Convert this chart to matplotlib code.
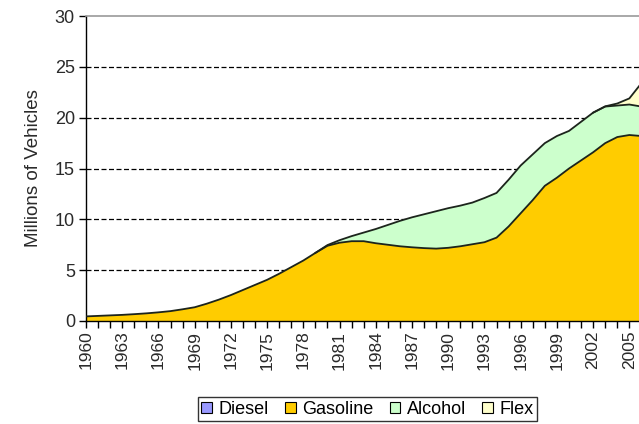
import numpy as np
import matplotlib.pyplot as plt
from matplotlib.patches import Patch

plt.rcParams['font.family'] = ['Liberation Sans', 'DejaVu Sans']

# data (millions of vehicles)
years = list(range(1960, 2008))
diesel = [0.0] * 48
gasoline = [0.45, 0.5, 0.55, 0.6, 0.67, 0.75, 0.85, 0.97, 1.15, 1.35,
            1.7, 2.1, 2.55, 3.05, 3.55, 4.05, 4.65, 5.3, 5.95, 6.7,
            7.4, 7.7, 7.85, 7.85, 7.65, 7.5, 7.35, 7.25, 7.17, 7.12,
            7.2, 7.35, 7.55, 7.75, 8.2, 9.3, 10.6, 11.9, 13.3, 14.1,
            15.0, 15.8, 16.6, 17.5, 18.1, 18.3, 18.2, 18.0]
alcohol = [0.0] * 20 + [0.07, 0.25, 0.5, 0.85, 1.4, 1.95, 2.5, 2.95, 3.33, 3.68,
                        3.9, 4.0, 4.1, 4.35, 4.4, 4.6, 4.7, 4.5, 4.2, 4.1,
                        3.7, 3.8, 3.9, 3.6, 3.1, 3.0, 2.9, 2.8]
flex = [0.0] * 43 + [0.02, 0.2, 0.6, 2.3, 3.8]

labels = ['Diesel', 'Gasoline', 'Alcohol', 'Flex']
colors = ['#9999FF', '#FFCC00', '#CCFFCC', '#FFFFCC']

fig = plt.figure(figsize=(6.39, 4.24), dpi=100)
ax = fig.add_axes([0.1346, 0.243, 0.8654, 0.719])

x = np.array(years)
series = [np.array(diesel), np.array(gasoline), np.array(alcohol), np.array(flex)]
ax.stackplot(x, *series, colors=colors, linewidth=0, zorder=2)

# outline of each layer
tops = np.cumsum(series, axis=0)
for i in range(1, 4):
    idx = np.where(series[i] > 0)[0]
    if len(idx) == 0:
        continue
    start = max(idx[0] - 1, 0)
    ax.plot(x[start:], tops[i][start:], color='#1c241c', lw=1.3, zorder=3)

for yv in [5, 10, 15, 20, 25]:
    ax.axhline(yv, color='black', lw=0.9, ls=(0, (4, 2)), zorder=1)

ax.set_yticks(range(0, 31, 5))
ax.set_xticks(years)
ax.set_xticklabels([str(y) if (y - 1960) % 3 == 0 else '' for y in years],
                   rotation=90)
# picture is cut off on the right, like the original
ax.set_xlim(1960, 2005.8)
ax.set_ylim(0, 30)
ax.tick_params(axis='both', direction='out', length=5, width=1,
               color='black', labelcolor='#2a2a2a')
ax.tick_params(axis='y', labelsize=13, pad=3)
ax.tick_params(axis='x', labelsize=12.5, pad=2)

ax.spines['right'].set_visible(False)
ax.spines['top'].set_color('#999999')
ax.spines['top'].set_linewidth(1.2)
ax.spines['left'].set_linewidth(1)
ax.spines['bottom'].set_linewidth(1)

ax.set_ylabel('Millions of Vehicles', fontsize=13.5, color='#2a2a2a', labelpad=9)

handles = [Patch(facecolor=c, edgecolor='black', lw=0.8) for c in colors]
fig.legend(handles, labels, loc='center', bbox_to_anchor=(0.575, 0.035),
           ncol=4, fontsize=13, frameon=True, fancybox=False,
           edgecolor='black', handlelength=0.6, handleheight=0.6,
           handletextpad=0.35, columnspacing=0.9, borderpad=0.2,
           borderaxespad=0)

fig.savefig('out.png', dpi=100)
